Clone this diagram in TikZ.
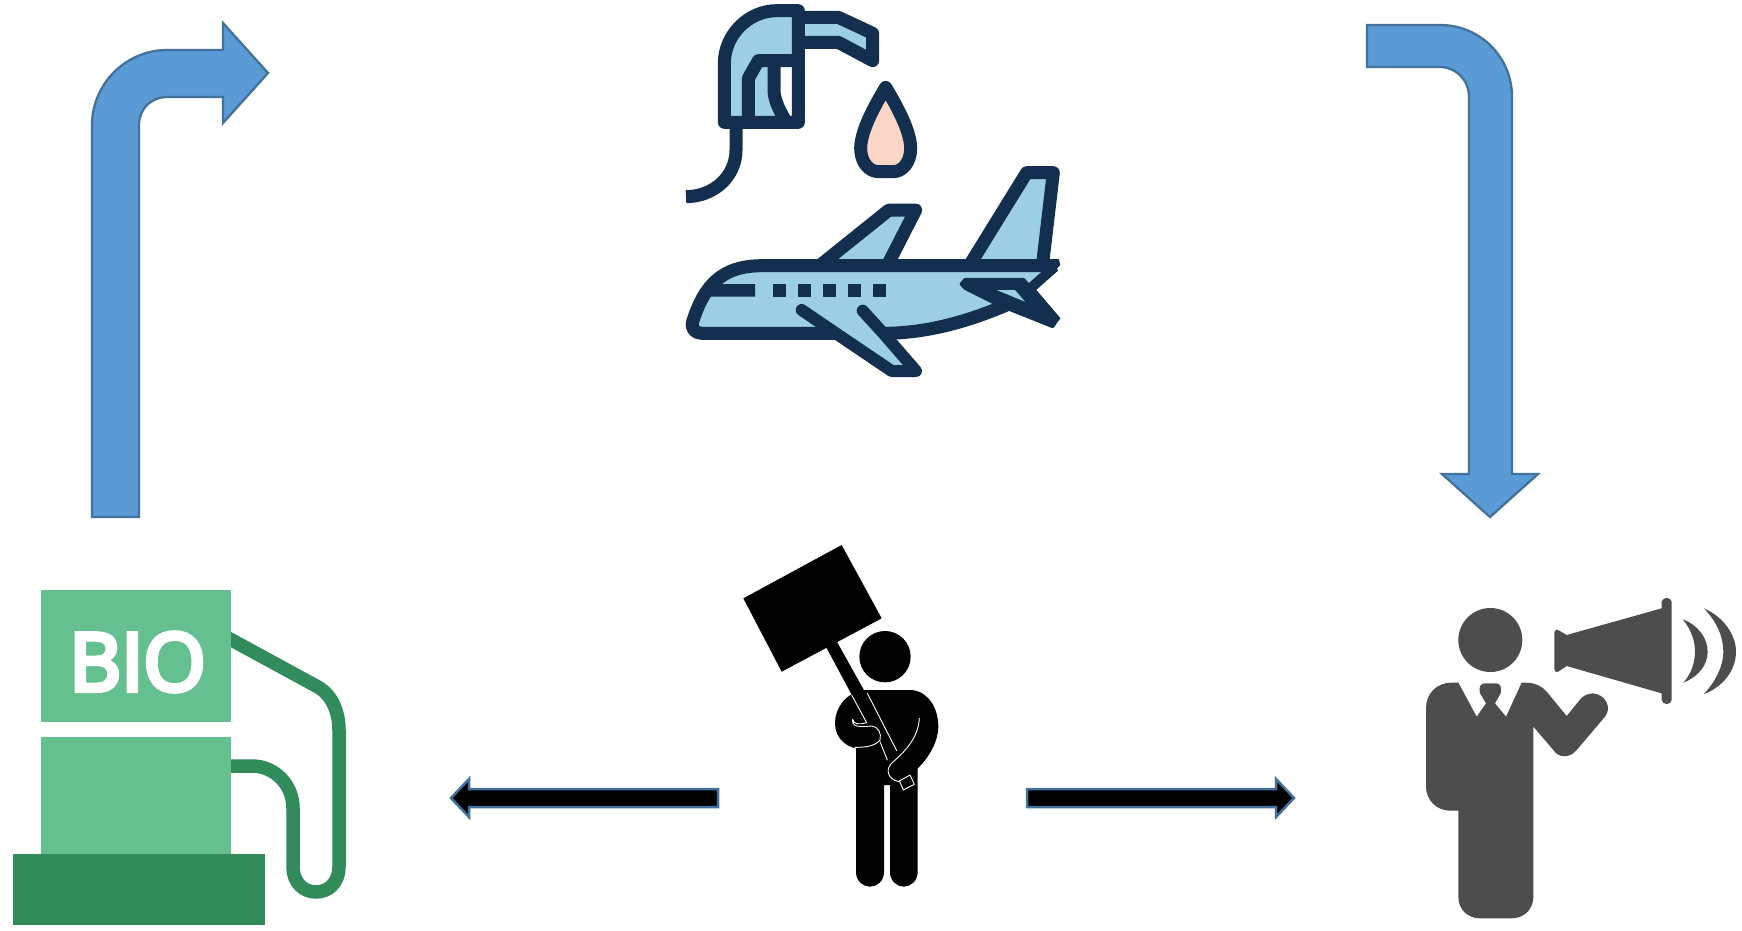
\documentclass[tikz,border=0pt]{standalone}
\usepackage{fontspec}
\setmainfont{Open Sans}
\newfontfamily\biofont[FakeBold=6]{Open Sans}
\definecolor{arrowblue}{HTML}{5B9BD5}
\definecolor{arrowedge}{HTML}{41719C}
\definecolor{pumplight}{HTML}{64C08F}
\definecolor{pumpdark}{HTML}{318B5B}
\definecolor{navy}{HTML}{132F50}
\definecolor{skyfill}{HTML}{9CCFE6}
\definecolor{peach}{HTML}{FBD6C6}
\definecolor{speaker}{HTML}{4D4D4D}
\tikzset{
  bluearrow/.style={fill=arrowblue,draw=arrowedge,line width=2.3pt,line join=miter},
  blackarrow/.style={fill=black,draw=arrowedge,line width=2.5pt,line join=miter},
  icon/.style={draw=navy,fill=skyfill,line width=13pt,line join=round},
  iconline/.style={draw=navy,line width=13pt,line join=round},
  zoomed/.style={x=0.33333pt,y=-0.33333pt},
  whiteline/.style={draw=white,line width=0.9pt,line join=round,line cap=round}
}
\begin{document}
\begin{tikzpicture}[x=1pt,y=-1pt]
\useasboundingbox (0,0) rectangle (1742,930);
% block arrows
\draw[bluearrow] (92,517) -- (92,125) .. controls (92,84) and (126,50) .. (167,50) -- (223,50) -- (223,23) -- (268,73) -- (223,123) -- (223,97) -- (167,97) .. controls (151,97) and (139,109) .. (139,125) -- (139,517) -- cycle;
\draw[bluearrow] (1367,25) -- (1440,25) .. controls (1480,25) and (1512,57) .. (1512,97) -- (1512,474) -- (1538,474) -- (1490,517) -- (1442,474) -- (1469,474) -- (1469,97) .. controls (1469,80) and (1456,67) .. (1440,67) -- (1367,67) -- cycle;
\draw[blackarrow] (718,789) -- (469,789) -- (469,779) -- (451,798) -- (469,817) -- (469,807) -- (718,807) -- cycle;
\draw[blackarrow] (1027,789) -- (1276,789) -- (1276,779) -- (1294,798) -- (1276,817) -- (1276,807) -- (1027,807) -- cycle;
% bio pump
\draw[pumpdark,line width=13.5pt,line join=round] (228,638) -- (318,687) .. controls (332,695) and (339,712) .. (339,730) -- (339,867) .. controls (339,882) and (329,892) .. (316,892) .. controls (303,892) and (293,882) .. (293,867) -- (293,808) .. controls (293,785) and (275,766) .. (252,766) -- (228,766);
\fill[pumplight] (41.3,590) rectangle (230.7,722);
\fill[pumplight] (41.3,737) rectangle (230.7,856);
\fill[pumpdark] (12.7,854) rectangle (265,925);
\node[text=white,inner sep=0pt,font=\biofont\fontsize{80}{80}\selectfont] (biolabel) at (137.5,662) {BIO};
% nozzle, drop, plane
\begin{scope}[shift={(670,0)},zoomed]
  \draw[iconline] (198,370) -- (198,450) .. controls (198,530) and (130,590) .. (48,590);
  \draw[icon] (385,52) -- (505,52) -- (608,100) -- (608,182) -- (505,127) -- (385,127) -- cycle;
  \fill[skyfill] (385,32) -- (320,32) .. controls (235,32) and (163,105) .. (163,190) -- (163,367) -- (235,367) -- (235,235) -- (265,182) -- (385,182) -- cycle;
  \fill[skyfill] (240,220) -- (268,190) -- (300,190) -- (300,270) .. controls (300,295) and (315,335) .. (332,360) -- (240,360) -- cycle;
  \draw[iconline] (312,190) -- (312,270) .. controls (312,300) and (330,335) .. (348,365);
  \draw[iconline] (385,367) -- (163,367) -- (163,190) .. controls (163,105) and (235,32) .. (320,32) -- (385,32) -- cycle;
  \draw[iconline] (235,367) -- (235,235) -- (265,182) -- (385,182);
  \draw[icon,fill=peach] (647,262) .. controls (628,295) and (572,385) .. (572,445) .. controls (572,490) and (600,515) .. (625,515) -- (670,515) .. controls (695,515) and (722,490) .. (722,445) .. controls (722,385) and (666,295) .. (647,262) -- cycle;
  \draw[icon] (445,800) -- (657,630) -- (737,630) -- (650,800);
  \draw[icon] (902,790) -- (1070,518) -- (1150,518) -- (1118,790);
  % fuselage
  \fill[skyfill] (1130,797) -- (280,797) .. controls (180,797) and (110,830) .. (68,965) .. controls (62,985) and (75,1000) .. (95,1000) -- (640,1000) .. controls (760,1000) and (880,970) .. (1010,915) -- (1078,868) -- cycle;
  \draw[iconline] (1150,797) -- (280,797) .. controls (180,797) and (110,830) .. (68,965) .. controls (62,985) and (75,1000) .. (95,1000) -- (505,1000);
  \draw[iconline] (640,1000) .. controls (760,1000) and (880,970) .. (1010,915);
  \fill[navy] (1140,777) -- (1166,777) -- (1171,795) -- (1150,817) -- (1140,817) -- cycle;
  \draw[iconline,line width=10pt] (1155,800) -- (1078,868) -- (1160,965);
  \filldraw[navy,line width=3pt,line join=round] (885,838) -- (1060,838) -- (1090,870) -- (1165,955) -- (1148,980) -- (985,915) -- (885,865) -- (873,852) -- cycle;
  \fill[skyfill] (980,870) -- (1035,870) -- (1065,905) -- cycle;
  \fill[navy] (130,852) -- (255,852) -- (255,890) -- (110,890) -- cycle;
  \foreach \wx in {310,385,460,535,610} {\fill[navy] (\wx,852) rectangle +(37,38);}
  % lower wing
  \fill[skyfill] (395,930) -- (665,1113) -- (738,1113) -- (640,1000) -- (578,932) -- cycle;
  \draw[iconline,line width=12pt,line cap=round] (395,930) -- (520,1015) -- (665,1113) -- (738,1113) -- (640,1000) -- (578,932);
\end{scope}
% protester
\begin{scope}[shift={(730,530)},zoomed]
  \fill (40,205) -- (335,45) -- (455,265) -- (155,425) -- cycle;
  \fill (465,380) circle [radius=77];
  \fill (285,345) -- (315,325) -- (505,665) -- (470,690) -- cycle;
  \fill (400,480) .. controls (345,490) and (315,535) .. (315,580) .. controls (315,625) and (350,650) .. (378,655) -- (378,1026) .. controls (378,1052) and (398,1070) .. (420,1070) .. controls (442,1070) and (462,1052) .. (462,1026) -- (462,765) -- (480,765) -- (480,1026) .. controls (480,1052) and (500,1070) .. (521,1070) .. controls (543,1070) and (563,1052) .. (563,1026) -- (563,715) .. controls (600,680) and (625,630) .. (625,590) .. controls (625,530) and (590,480) .. (540,480) -- cycle;
  \fill (470,700) -- (510,770) -- (555,745) -- (500,660) -- cycle;
  \draw[whiteline] (365,495) -- (410,578) .. controls (385,585) and (370,582) .. (368,568) (368,568) .. controls (365,590) and (385,592) .. (425,588) .. controls (445,590) and (455,610) .. (450,630) .. controls (435,650) and (400,652) .. (375,652);
  \draw[whiteline] (412,490) -- (500,662);
  \draw[whiteline] (450,635) -- (472,690);
  \draw[whiteline,fill=black] (508,752) -- (520,780) -- (553,763) -- (540,735);
  \draw[whiteline] (568,565) .. controls (565,620) and (530,660) .. (490,695) .. controls (465,715) and (470,745) .. (505,755) -- (540,735);
\end{scope}
% speaker
\begin{scope}[shift={(1410,580)},zoomed,speaker]
  \fill (241,180) circle [radius=96];
  \fill (125,308) -- (145,308) -- (200,410) -- (228,370) -- (210,340) .. controls (205,320) and (212,310) .. (225,310) -- (258,310) .. controls (270,310) and (276,320) .. (272,340) -- (255,370) -- (288,410) -- (335,308) -- (345,308) .. controls (375,308) and (395,318) .. (410,335) -- (470,408) -- (505,365) .. controls (515,350) and (530,340) .. (550,340) .. controls (590,345) and (605,385) .. (585,410) -- (500,510) .. controls (480,535) and (445,535) .. (430,510) -- (370,440) -- (370,950) .. controls (370,990) and (340,1015) .. (305,1015) -- (210,1015) .. controls (175,1015) and (145,990) .. (145,950) -- (145,692) -- (120,692) .. controls (80,692) and (48,660) .. (48,620) -- (48,385) .. controls (48,340) and (80,308) .. (125,308) -- cycle;
  \fill (433,160) .. controls (433,150) and (440,146) .. (448,152) -- (470,165) -- (755,85) -- (755,65) .. controls (758,50) and (782,50) .. (785,65) -- (785,360) .. controls (782,376) and (758,376) .. (755,360) -- (755,340) -- (470,258) -- (448,273) .. controls (440,279) and (433,275) .. (433,265) -- cycle;
  \fill (818,118) .. controls (865,135) and (893,175) .. (893,215) .. controls (893,255) and (865,290) .. (820,308) .. controls (845,280) and (855,245) .. (855,215) .. controls (855,185) and (845,150) .. (818,118) -- cycle;
  \fill (882,85) .. controls (940,110) and (978,165) .. (978,215) .. controls (978,270) and (940,320) .. (882,342) .. controls (920,300) and (940,255) .. (940,215) .. controls (940,170) and (920,125) .. (882,85) -- cycle;
\end{scope}
\end{tikzpicture}
\end{document}
